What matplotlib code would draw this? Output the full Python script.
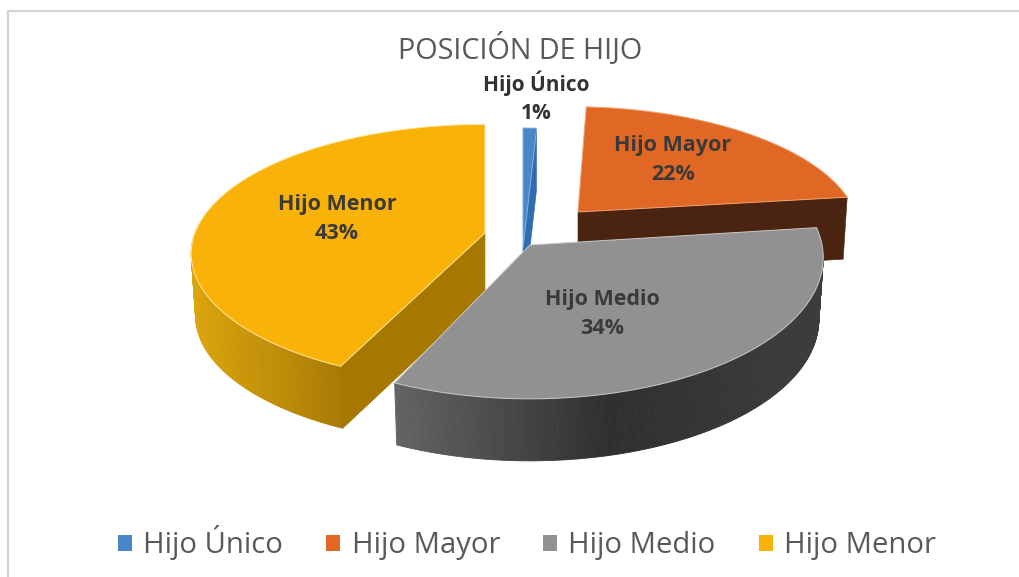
import numpy as np
import matplotlib
matplotlib.use("Agg")
import matplotlib.pyplot as plt
from matplotlib.patches import Polygon, Patch
from matplotlib.colors import LinearSegmentedColormap

# data
categories = ["Hijo Único", "Hijo Mayor", "Hijo Medio", "Hijo Menor"]
percentages = [1, 22, 34, 43]
title = "POSICIÓN DE HIJO"

# style
top_colors = ["#4a86c8", "#e06824", "#919191", "#f9b208"]
cut_colors = ["#2f6cb0", "#4a2410", "#444444", "#a67800"]
side_stops = [["#2f6cb0", "#2f6cb0"], ["#4a2410", "#4a2410"],
              ["#636363", "#2f2f2f", "#3d3d3d"], ["#dba50c", "#a87a05"]]
edge_colors = ["#7fb0e0", "#f2a070", "#c8c8c8", "#fde6a0"]
# per-slice projection: apex x, apex y, radius x, radius y, perspective, shear
apex_x = [523, 578, 530, 485]
apex_y = [248, 212, 245, 233]
rad_x = [240, 277, 292, 290]
rad_y = [132, 120, 140, 126]
persp = [0.10, 0.14, 0.09, 0.16]
shear = [0, -7, 0, 0]
depth = 62
bottom_scale = 0.985
draw_order = [1, 0, 3, 2]
# which end of the slice shows its cut face: -1 clockwise end, 0 counter-clockwise end, None hidden
cut_end = [-1, -1, None, 0]
label_pos = [(536, 97), (673, 160), (602, 314), (337, 219)]
label_sizes = [15, 15.5, 15.5, 15.5]
label_colors = ["#333333", "#3a3a3a", "#3a3a3a", "#3a3a3a"]

fig = plt.figure(figsize=(10.2, 5.77), dpi=100)
ax = fig.add_axes([0, 0, 1, 1])
ax.set_xlim(0, 1020)
ax.set_ylim(577, 0)
ax.axis("off")

FONT = "Open Sans"

# chart frame (top and left only, as cropped in the reference)
ax.plot([8, 8, 1020], [577, 11, 11], color="#d4d4d4", lw=1.6, zorder=0)


def project(i, theta):
    u, v = np.sin(theta), np.cos(theta)
    s = 1 / (1 + persp[i] * v)
    return apex_x[i] + rad_x[i] * u * s + shear[i] * v, apex_y[i] - rad_y[i] * v * s


def lower(i, x, y):
    return apex_x[i] + (x - apex_x[i]) * bottom_scale, y + depth


edges = np.concatenate([[0], np.cumsum(percentages)]) / np.sum(percentages) * 2 * np.pi

for n, i in enumerate(draw_order):
    z = 2 + n * 3
    a0, a1 = edges[i], edges[i + 1]
    th = np.linspace(a0, a1, 240)
    px, py = project(i, th)

    # outer rim, split into strips so the shading follows x
    cmap = LinearSegmentedColormap.from_list("rim", side_stops[i])
    front = np.cos(th) < 0.05
    if front.any():
        x0, x1 = px[front].min(), px[front].max()
        for j in range(len(th) - 1):
            if front[j] and front[j + 1]:
                bx0, by0 = lower(i, px[j], py[j])
                bx1, by1 = lower(i, px[j + 1], py[j + 1])
                c = cmap((0.5 * (px[j] + px[j + 1]) - x0) / max(x1 - x0, 1))
                ax.add_patch(Polygon([(px[j], py[j]), (px[j + 1], py[j + 1]), (bx1, by1), (bx0, by0)],
                                     closed=True, fc=c, ec=c, lw=0.6, zorder=z))

    # cut face
    if cut_end[i] is not None:
        ex, ey = px[cut_end[i]], py[cut_end[i]]
        bx, by = lower(i, ex, ey)
        ax.add_patch(Polygon([(ex, ey), (apex_x[i], apex_y[i]), (apex_x[i], apex_y[i] + depth), (bx, by)],
                             closed=True, fc=cut_colors[i], ec=cut_colors[i], lw=0.4, zorder=z + 1))

    # top face
    verts = np.column_stack([np.r_[apex_x[i], px], np.r_[apex_y[i], py]])
    ax.add_patch(Polygon(verts, closed=True, fc=top_colors[i], ec=edge_colors[i], lw=0.7, zorder=z + 2))

# data labels
for name, pct, (lx, ly), col, fs in zip(categories, percentages, label_pos, label_colors, label_sizes):
    ax.text(lx, ly, f"{name}\n{pct}%", ha="center", va="center", fontsize=fs, fontweight="bold",
            color=col, family=FONT, linespacing=1.45, zorder=30)

ax.text(520, 49, title, ha="center", va="center", fontsize=20.7, color="#595959", family=FONT, zorder=30)

handles = [Patch(fc=c, ec="none") for c in top_colors]
leg = ax.legend(handles, categories, ncol=4, loc="center", bbox_to_anchor=(527, 543),
                bbox_transform=ax.transData, frameon=False,
                handlelength=0.48, handleheight=0.48, handletextpad=0.38, columnspacing=1.47,
                prop={"family": FONT, "size": 21.1}, labelcolor="#595959")

fig.savefig("out.png", dpi=100)
